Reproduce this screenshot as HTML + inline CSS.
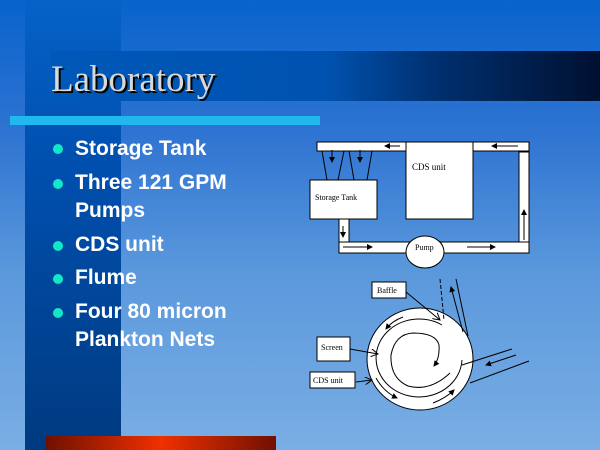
<!DOCTYPE html>
<html><head><meta charset="utf-8"><style>
body{margin:0;width:600px;height:450px;overflow:hidden;position:relative;font-family:"Liberation Sans",sans-serif;
background:linear-gradient(#0863cc 0%,#2f74d2 30%,#5a98dc 60%,#7aaee4 100%);}
.band{position:absolute;left:25px;top:0;width:96px;height:450px;background:linear-gradient(#0662c8,#0050b0 35%,#003a80 100%);}
.title{position:absolute;left:51px;top:51px;width:549px;height:50px;background:linear-gradient(90deg,#0058b8 0%,#0052b0 50%,#003070 70%,#001030 100%);}
.title span{position:absolute;left:0;top:10px;line-height:37px;font-family:"Liberation Serif",serif;font-size:37px;color:#d8d8d8;text-shadow:2px 2px 0 #000;white-space:nowrap;}
.cyan{position:absolute;left:10px;top:116px;width:310px;height:9px;background:#20b8ee;}
.red{position:absolute;left:46px;top:436px;width:230px;height:14px;background:linear-gradient(90deg,#701000,#f03000 50%,#701000);}
.b{position:absolute;left:75px;color:#fff;font-weight:bold;font-size:21px;line-height:28px;}
.dot{position:absolute;left:53px;width:10px;height:10px;border-radius:50%;background:#10e8c8;}
</style></head><body>
<div class="band"></div>
<div class="title"><span>Laboratory</span></div>
<div class="cyan"></div>
<div class="red"></div>
<div class="dot" style="top:144px"></div><div class="b" style="top:135px">Storage Tank</div>
<div class="dot" style="top:179px"></div><div class="b" style="top:169px">Three 121 GPM<br>Pumps</div>
<div class="dot" style="top:241px"></div><div class="b" style="top:231px">CDS unit</div>
<div class="dot" style="top:274px"></div><div class="b" style="top:264px">Flume</div>
<div class="dot" style="top:308px"></div><div class="b" style="top:298px">Four 80 micron<br>Plankton Nets</div>
<svg width="600" height="450" style="position:absolute;left:0;top:0" font-family="Liberation Serif,serif">
<defs><marker id="a" markerWidth="6" markerHeight="6" refX="5" refY="3" orient="auto"><path d="M0,0L6,3L0,6z" fill="#000"/></marker>
<marker id="o" markerWidth="8" markerHeight="8" refX="7" refY="4" orient="auto"><path d="M0,0L7,4L0,8" fill="none" stroke="#000"/></marker></defs>
<g fill="#fff" stroke="#000" stroke-width="1">
<rect x="317" y="142" width="89" height="9"/>
<rect x="473" y="142" width="56" height="9"/>
<rect x="519" y="152" width="10" height="100"/>
<rect x="339" y="242" width="190" height="11"/>
<rect x="339" y="219" width="10" height="23"/>
<rect x="406" y="142" width="67" height="77"/>
<rect x="310" y="180" width="67" height="39"/>
<ellipse cx="425" cy="252" rx="19" ry="16"/>
</g>
<g stroke="#000" fill="none">
<line x1="322" y1="151" x2="327" y2="180"/><line x1="344" y1="151" x2="338" y2="180"/>
<line x1="349" y1="151" x2="354" y2="180"/><line x1="372" y1="151" x2="367" y2="180"/>
<line x1="332" y1="150" x2="332" y2="162" marker-end="url(#a)"/>
<line x1="360" y1="150" x2="360" y2="162" marker-end="url(#a)"/>
<line x1="400" y1="146" x2="385" y2="146" marker-end="url(#a)"/>
<line x1="518" y1="146" x2="492" y2="146" marker-end="url(#a)"/>
<line x1="524" y1="240" x2="524" y2="210" marker-end="url(#a)"/>
<line x1="343" y1="247" x2="372" y2="247" marker-end="url(#a)"/>
<line x1="467" y1="247" x2="495" y2="247" marker-end="url(#a)"/>
<line x1="343" y1="226" x2="343" y2="237" marker-end="url(#a)"/>
</g>
<g font-size="8" fill="#000">
<text x="412" y="170" font-size="9">CDS unit</text>
<text x="315" y="200">Storage Tank</text>
<text x="415" y="250">Pump</text>
</g>
<g fill="#fff" stroke="#000">
<ellipse cx="420" cy="359" rx="53" ry="51"/>
<rect x="372" y="282" width="34" height="16"/>
<rect x="317" y="337" width="33" height="24"/>
<rect x="310" y="372" width="45" height="16"/>
</g>
<g stroke="#000" fill="none">
<path d="M442,325 A43,39 0 1 0 462,360"/>
<path d="M450,373 Q430,392 408,386 Q390,378 391,355 Q395,334 413,333 Q436,333 439,345 Q440,358 434,366" marker-end="url(#a)"/>
<path d="M403,317 Q392,321 386,329" marker-end="url(#a)"/>
<path d="M376,378 Q384,392 397,398" marker-end="url(#a)"/>
<path d="M433,403 Q446,398 454,390" marker-end="url(#a)"/>
<line x1="406" y1="292" x2="440" y2="320" marker-end="url(#o)"/>
<line x1="350" y1="349" x2="378" y2="354" marker-end="url(#o)"/>
<line x1="356" y1="382" x2="372" y2="380" marker-end="url(#o)"/>
<line x1="440" y1="279" x2="444" y2="320" stroke-dasharray="4,2"/>
<line x1="463" y1="332" x2="451" y2="287" marker-end="url(#a)"/>
<line x1="456" y1="279" x2="468" y2="336"/>
<line x1="462" y1="365" x2="512" y2="349"/>
<line x1="470" y1="383" x2="529" y2="361"/>
<line x1="516" y1="355" x2="486" y2="365" marker-end="url(#a)"/>
</g>
<g font-size="8" fill="#000">
<text x="377" y="293">Baffle</text>
<text x="321" y="350">Screen</text>
<text x="313" y="383">CDS unit</text>
</g>
</svg>
</body></html>
